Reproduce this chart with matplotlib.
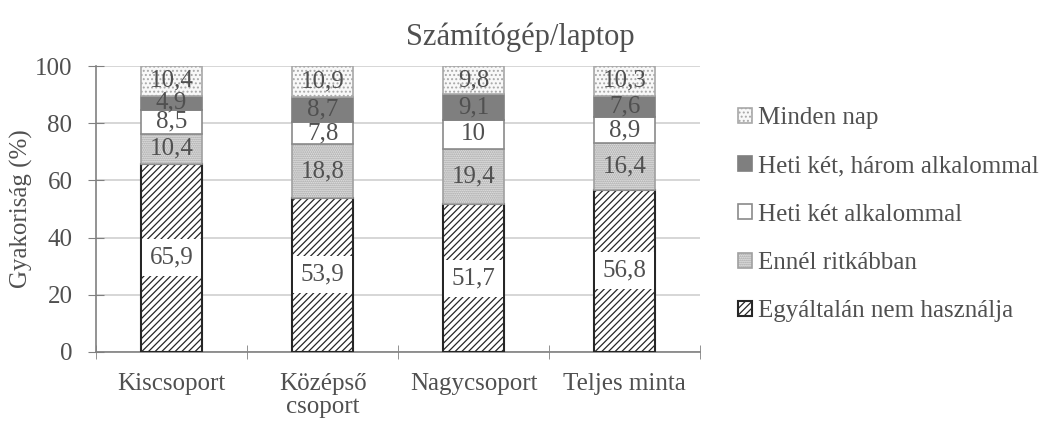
import numpy as np
import matplotlib.pyplot as plt

plt.rcParams['font.family'] = ['Liberation Serif', 'DejaVu Serif']
plt.rcParams['hatch.linewidth'] = 0.9

# data (%)
groups = ['Kiscsoport', 'Középső\ncsoport', 'Nagycsoport', 'Teljes minta']
series = ['Egyáltalán nem használja', 'Ennél ritkábban', 'Heti két alkalommal',
          'Heti két, három alkalommal', 'Minden nap']
nem_hasznalja = [65.9, 53.9, 51.7, 56.8]
ritkabban = [10.4, 18.8, 19.4, 16.4]
heti_ket = [8.5, 7.8, 10, 8.9]
heti_ket_harom = [4.9, 8.7, 9.1, 7.6]
minden_nap = [10.4, 10.9, 9.8, 10.3]

values = [nem_hasznalja, ritkabban, heti_ket, heti_ket_harom, minden_nap]
styles = [
    dict(facecolor='white', edgecolor='#262626', hatch='/////', linewidth=1.5),
    dict(facecolor='#e3e3e3', edgecolor='#a0a0a0', hatch='........', linewidth=1.2),
    dict(facecolor='white', edgecolor='#8a8a8a', hatch=None, linewidth=1.2),
    dict(facecolor='#7f7f7f', edgecolor='#7f7f7f', hatch=None, linewidth=1.2),
    dict(facecolor='#f8f8f8', edgecolor='#a8a8a8', hatch='....', linewidth=1.2),
]
txt = '#505050'
fs = 18

fig = plt.figure(figsize=(10.4, 4.21), dpi=100)
ax = fig.add_axes([0.0923, 0.164, 0.581, 0.679])

x = np.arange(len(groups))
bottom = np.zeros(len(groups))
for name, vals, st in zip(series, values, styles):
    vals = np.array(vals, dtype=float)
    ax.bar(x, vals, 0.4, bottom=bottom, label=name, zorder=3, **st)
    for xi, b, v in zip(x, bottom, vals):
        lab = f'{v:g}'.replace('.', ',')
        kw = {}
        if name == series[0]:
            kw['bbox'] = dict(boxstyle='square,pad=0.3', facecolor='white',
                              edgecolor='none')
        ax.text(xi, b + v / 2, lab, ha='center', va='center', fontsize=fs,
                color=txt, zorder=4, **kw)
    bottom += vals

ax.set_xlim(-0.5, len(groups) - 0.5)
ax.set_ylim(0, 100)
ax.set_yticks(range(0, 101, 20))
ax.yaxis.grid(True, color='#d0d0d0', linewidth=1.2, zorder=0)
ax.set_xticks(x)
ax.set_xticklabels(groups, fontsize=fs, color=txt, linespacing=1.1)
ax.set_xticks(np.arange(-0.5, len(groups), 1), minor=True)
ax.tick_params(axis='x', which='major', length=0, pad=15)
ax.tick_params(axis='x', which='minor', length=10, color='#808080', direction='inout')
ax.tick_params(axis='y', labelsize=fs, labelcolor=txt, color='#808080', length=12,
               direction='inout', pad=11)
for s in ['top', 'right']:
    ax.spines[s].set_visible(False)
for s in ['left', 'bottom']:
    ax.spines[s].set_color('#808080')
    ax.spines[s].set_linewidth(1.2)
ax.set_ylabel('Gyakoriság (%)', fontsize=fs, color=txt, labelpad=1)

fig.text(0.5, 0.912, 'Számítógép/laptop', ha='center', va='center', fontsize=22, color=txt)

h, l = ax.get_legend_handles_labels()
fig.legend(h[::-1], l[::-1], loc='center left', bbox_to_anchor=(0.688, 0.49),
           frameon=False, fontsize=fs, labelcolor=txt, handlelength=0.55,
           handleheight=0.55, handletextpad=0.25, labelspacing=1.05)

fig.savefig('out.png', dpi=100)
